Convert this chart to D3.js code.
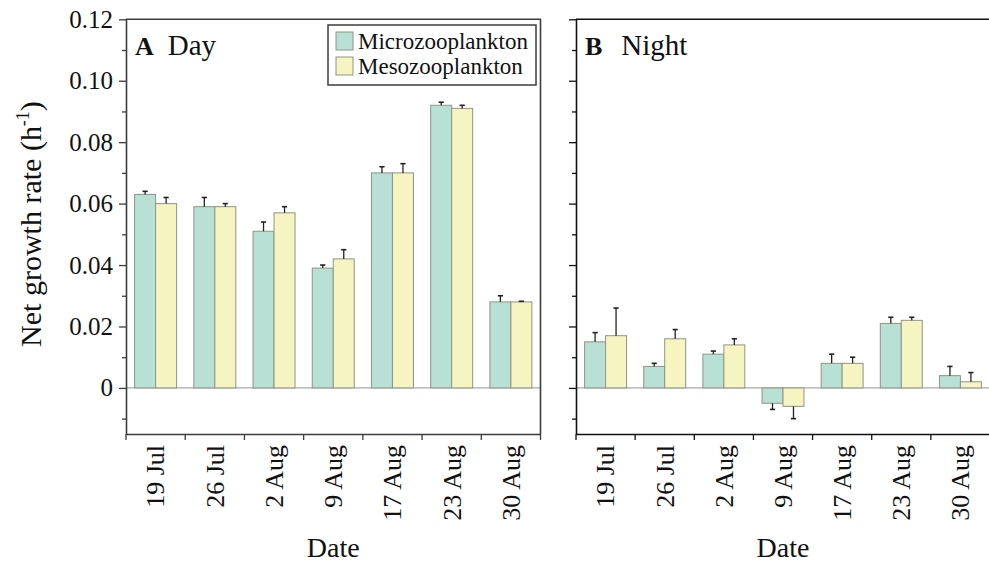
<!DOCTYPE html>
<html>
<head>
<meta charset="utf-8">
<script src="https://cdn.jsdelivr.net/npm/d3@7"></script>
<style>
  html, body { margin: 0; padding: 0; background: #fff; }
  svg { display: block; }
  svg text { font-family: "Liberation Serif", Tinos, "Times New Roman", "DejaVu Serif", serif !important; }
</style>
</head>
<body>
<svg id="chart" width="989" height="565"></svg>
<script>
// Sampling dates
const categories = ["19 Jul", "26 Jul", "2 Aug", "9 Aug", "17 Aug", "23 Aug", "30 Aug"];
const series = ["Microzooplankton", "Mesozooplankton"];

// Net growth rate (h^-1), daytime incubations
const dayMicro    = [0.063, 0.059, 0.051, 0.039, 0.070, 0.092, 0.028];
const dayMicroErr = [0.001, 0.003, 0.003, 0.001, 0.002, 0.001, 0.002];
const dayMeso     = [0.060, 0.059, 0.057, 0.042, 0.070, 0.091, 0.028];
const dayMesoErr  = [0.002, 0.001, 0.002, 0.003, 0.003, 0.001, 0.0002];

// Net growth rate (h^-1), night-time incubations
const nightMicro    = [0.015, 0.007, 0.011, -0.005, 0.008, 0.021, 0.004];
const nightMicroErr = [0.003, 0.001, 0.001, 0.002, 0.003, 0.002, 0.003];
const nightMeso     = [0.017, 0.016, 0.014, -0.006, 0.008, 0.022, 0.002];
const nightMesoErr  = [0.009, 0.003, 0.002, 0.004, 0.002, 0.001, 0.003];

const yMajorTicks = [0, 0.02, 0.04, 0.06, 0.08, 0.10, 0.12];
const yMinorTicks = [-0.01, 0.01, 0.03, 0.05, 0.07, 0.09, 0.11];

const colors = { Microzooplankton: "#b9e0d4", Mesozooplankton: "#f6f4c1" };
const barStroke = "#8f9486";

const svg = d3.select("#chart");
const y = d3.scaleLinear().domain([-0.015, 0.12]).range([434, 19.3]);

function panel(opts) {
  const { x0, x1, micro, microErr, meso, mesoErr, label, title, axisColor, rightBorder, showYLabels, titleDx } = opts;
  const g = svg.append("g");
  const x = d3.scaleBand().domain(categories).range([x0, x1]).padding(0);
  const xs = d3.scaleBand().domain(series).range([0, x.bandwidth()]).paddingInner(0).paddingOuter(0.41);

  const rows = [];
  categories.forEach((c, i) => {
    rows.push({ cat: c, s: series[0], v: micro[i], e: microErr[i] });
    rows.push({ cat: c, s: series[1], v: meso[i], e: mesoErr[i] });
  });

  // zero line
  g.append("line")
    .attr("x1", x0).attr("x2", x1)
    .attr("y1", y(0)).attr("y2", y(0))
    .attr("stroke", "#a9a9a9").attr("stroke-width", 1.2);

  // bars
  g.selectAll("rect.bar").data(rows).join("rect")
    .attr("class", "bar")
    .attr("x", d => x(d.cat) + xs(d.s))
    .attr("width", xs.bandwidth())
    .attr("y", d => Math.min(y(d.v), y(0)))
    .attr("height", d => Math.abs(y(d.v) - y(0)))
    .attr("fill", d => colors[d.s])
    .attr("stroke", barStroke).attr("stroke-width", 1);

  // error bars, drawn away from zero
  const eb = g.selectAll("g.err").data(rows).join("g").attr("class", "err");
  const cx = d => x(d.cat) + xs(d.s) + xs.bandwidth() / 2;
  const tip = d => y(d.v >= 0 ? d.v + d.e : d.v - d.e);
  eb.append("line")
    .attr("x1", cx).attr("x2", cx)
    .attr("y1", d => y(d.v)).attr("y2", tip)
    .attr("stroke", "#222").attr("stroke-width", 1.3);
  eb.append("line")
    .attr("x1", d => cx(d) - 2.6).attr("x2", d => cx(d) + 2.6)
    .attr("y1", tip).attr("y2", tip)
    .attr("stroke", "#222").attr("stroke-width", 1.6);

  // frame
  g.append("line").attr("x1", x0).attr("x2", x1 + 0.5).attr("y1", y(0.12)).attr("y2", y(0.12))
    .attr("stroke", axisColor).attr("stroke-width", 1.6);
  if (rightBorder) {
    g.append("line").attr("x1", x1).attr("x2", x1).attr("y1", y(0.12)).attr("y2", y(-0.015))
      .attr("stroke", axisColor).attr("stroke-width", 1.6);
  }

  // y axis
  const yAxis = d3.axisLeft(y).tickValues(yMajorTicks).tickSize(7).tickPadding(6)
    .tickFormat(showYLabels ? (d => d === 0 ? "0" : d3.format(".2f")(d)) : () => "");
  const ya = g.append("g").attr("transform", `translate(${x0},0)`).call(yAxis);
  ya.attr("font-family", null);
  ya.select(".domain").attr("d", `M0.5,${y(0.12)}V${y(-0.015)}`).attr("stroke", axisColor).attr("stroke-width", 1.6);
  ya.selectAll(".tick line").attr("stroke", axisColor).attr("stroke-width", 1.3);
  ya.selectAll("text").attr("font-size", 25).attr("fill", "#111");
  const yMinor = d3.axisLeft(y).tickValues(yMinorTicks).tickSize(4).tickFormat(() => "");
  const ym = g.append("g").attr("transform", `translate(${x0},0)`).call(yMinor);
  ym.select(".domain").remove();
  ym.selectAll(".tick line").attr("stroke", axisColor).attr("stroke-width", 1.3);

  // x axis: labels at band centres, ticks at band boundaries
  const xAxis = d3.axisBottom(x).tickSize(0).tickPadding(0);
  const xa = g.append("g").attr("transform", `translate(0,${y(-0.015)})`).call(xAxis);
  xa.attr("font-family", null);
  xa.select(".domain").attr("d", `M${x0},0.5H${x1 + 0.5}`).attr("stroke", axisColor).attr("stroke-width", 1.6);
  xa.selectAll(".tick text")
    .attr("font-size", 26).attr("fill", "#111")
    .attr("text-anchor", "end")
    .attr("transform", "rotate(-90)")
    .attr("x", -11).attr("y", 0).attr("dy", "0.34em");
  const bounds = categories.map(c => x(c)).concat([x1]);
  xa.selectAll("line.bound").data(bounds).join("line").attr("class", "bound")
    .attr("x1", d => d).attr("x2", d => d).attr("y1", 0).attr("y2", 6)
    .attr("stroke", axisColor).attr("stroke-width", 1.3);

  // axis title
  g.append("text")
    .attr("x", (x0 + x1) / 2).attr("y", 557)
    .attr("text-anchor", "middle").attr("font-size", 28).attr("fill", "#111")
    .text("Date");

  // panel label
  const pl = g.append("text").attr("x", x0 + 9).attr("y", 55).attr("fill", "#111");
  pl.append("tspan").attr("font-weight", "bold").attr("font-size", 26).text(label);
  pl.append("tspan").attr("dx", titleDx).attr("font-size", 29).text(title);

  return g;
}

panel({ x0: 126, x1: 540.5, micro: dayMicro, microErr: dayMicroErr, meso: dayMeso, mesoErr: dayMesoErr,
        label: "A", title: "Day", axisColor: "#3c3c3c", rightBorder: true, showYLabels: true, titleDx: 14 });
panel({ x0: 576, x1: 990, micro: nightMicro, microErr: nightMicroErr, meso: nightMeso, mesoErr: nightMesoErr,
        label: "B", title: "Night", axisColor: "#111", rightBorder: false, showYLabels: false, titleDx: 19 });

// y axis title
const yt = svg.append("text")
  .attr("transform", "translate(41,224) rotate(-90)")
  .attr("text-anchor", "middle").attr("font-size", 30).attr("fill", "#111");
yt.append("tspan").text("Net growth rate (h");
yt.append("tspan").attr("font-size", 18).attr("dy", -12).text("-1");
yt.append("tspan").attr("dy", 12).text(")");

// legend
const lg = svg.append("g").attr("transform", "translate(328,25)");
lg.append("rect").attr("width", 208).attr("height", 60)
  .attr("fill", "#fff").attr("stroke", "#3c3c3c").attr("stroke-width", 1.5);
series.forEach((s, i) => {
  lg.append("rect").attr("x", 8).attr("y", 7 + i * 25).attr("width", 17).attr("height", 18)
    .attr("fill", colors[s]).attr("stroke", barStroke).attr("stroke-width", 1);
  lg.append("text").attr("x", 30).attr("y", 24 + i * 25)
    .attr("font-size", 23).attr("fill", "#111").text(s);
});
</script>
</body>
</html>
